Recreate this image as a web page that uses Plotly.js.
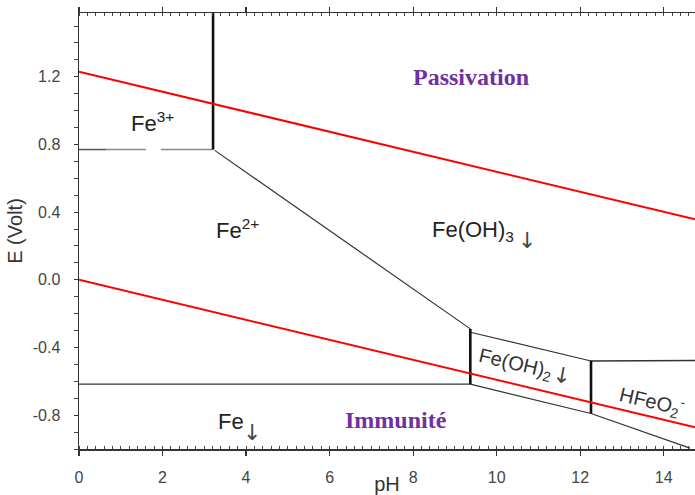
<!DOCTYPE html>
<html>
<head>
<meta charset="utf-8">
<script src="https://cdn.plot.ly/plotly-3.0.1.min.js"></script>
<style>html,body{margin:0;padding:0;background:#fff;}#chart{width:695px;height:495px;}</style>
</head>
<body>
<div id="chart"></div>
<script>
// ---- axis ticks ----
const pHTicks = [0, 2, 4, 6, 8, 10, 12, 14];
const eTickVals = [-0.8, -0.4, 0.0, 0.4, 0.8, 1.2];
const eTickText = ['-0.8', '-0.4', '0.0', '0.4', '0.8', '1.2'];

// ---- water stability lines ----
const o2Line_pH = [0, 14.75];
const o2Line_E = [1.23, 0.358];
const h2Line_pH = [0, 14.75];
const h2Line_E = [0.0, -0.872];

// ---- Fe3+/Fe2+ (broken horizontal) ----
const fe3fe2Dark_pH = [0, 0.65];
const fe3fe2Dark_E = [0.77, 0.77];
const fe3fe2_pH = [0.65, 1.6, null, 1.96, 3.21];
const fe3fe2_E = [0.77, 0.77, null, 0.77, 0.77];

// ---- thick vertical boundaries ----
const vert1_pH = [3.21, 3.21];
const vert1_E = [0.77, 1.58];
const vert2_pH = [9.37, 9.37];
const vert2_E = [-0.29, -0.617];
const vert3_pH = [12.26, 12.26];
const vert3_E = [-0.478, -0.79];

// ---- thin boundaries ----
const fe2FeOH3_pH = [3.25, 9.37];
const fe2FeOH3_E = [0.765, -0.29];
const fe2Fe_pH = [0, 9.37];
const fe2Fe_E = [-0.617, -0.617];
const feOH3feOH2_pH = [9.37, 12.26];
const feOH3feOH2_E = [-0.31, -0.48];
const feOH3hfeo2_pH = [12.26, 14.75];
const feOH3hfeo2_E = [-0.48, -0.477];
const feOH2Fe_pH = [9.37, 12.26];
const feOH2Fe_E = [-0.617, -0.79];
const hfeo2Fe_pH = [12.26, 14.63];
const hfeo2Fe_E = [-0.79, -0.995];

// ---- labels ----
const speciesText = ['Fe<sup>3+</sup>', 'Fe<sup>2+</sup>', 'Fe(OH)<sub>3</sub>', 'Fe'];
const species_pH = [1.77, 3.8, 9.43, 3.64];
const species_E = [0.93, 0.3, 0.29, -0.84];
const tiltedText = ['Fe(OH)<sub>2</sub>', 'HFeO<sub>2</sub><sup>-</sup>'];
const tilted_pH = [10.45, 13.72];
const tilted_E = [-0.5, -0.72];
const precipText = ['↓', '↓', '↓'];   // precipitate arrows for Fe(OH)3, Fe, Fe(OH)2
const precip_pH = [10.72, 4.14, 11.57];
const precip_E = [0.23, -0.905, -0.565];
const zoneText = ['Passivation', 'Immunité'];
const zone_pH = [9.39, 7.6];
const zone_E = [1.2, -0.83];

function seg(x, y, color, width) {
  return {x: x, y: y, type: 'scatter', mode: 'lines', hoverinfo: 'skip',
          line: {color: color, width: width}, showlegend: false};
}

const traces = [
  seg(fe3fe2Dark_pH, fe3fe2Dark_E, '#555555', 1.5),
  seg(fe3fe2_pH, fe3fe2_E, '#8a8a8a', 1.5),
  seg(fe2FeOH3_pH, fe2FeOH3_E, '#333333', 1.2),
  seg(fe2Fe_pH, fe2Fe_E, '#333333', 1.3),
  seg(feOH3feOH2_pH, feOH3feOH2_E, '#333333', 1.2),
  seg(feOH3hfeo2_pH, feOH3hfeo2_E, '#333333', 1.3),
  seg(feOH2Fe_pH, feOH2Fe_E, '#333333', 1.2),
  seg(hfeo2Fe_pH, hfeo2Fe_E, '#333333', 1.2),
  seg(vert1_pH, vert1_E, '#111111', 2.6),
  seg(vert2_pH, vert2_E, '#111111', 2.6),
  seg(vert3_pH, vert3_E, '#111111', 2.6),
  seg(o2Line_pH, o2Line_E, '#ff0000', 2),
  seg(h2Line_pH, h2Line_E, '#ff0000', 2)
];

const annotations = [];
speciesText.forEach((t, i) => annotations.push({
  x: species_pH[i], y: species_E[i], xref: 'x', yref: 'y', text: t, showarrow: false,
  font: {family: 'Liberation Sans, Arial, sans-serif', size: 22, color: '#222'}
}));
tiltedText.forEach((t, i) => annotations.push({
  x: tilted_pH[i], y: tilted_E[i], xref: 'x', yref: 'y', text: t, showarrow: false, textangle: 13,
  font: {family: 'Liberation Sans, Arial, sans-serif', size: 20, color: '#333'}
}));
precipText.forEach((t, i) => annotations.push({
  x: precip_pH[i], y: precip_E[i], xref: 'x', yref: 'y', text: t, showarrow: false,
  textangle: i === 2 ? 10 : 0,
  font: {family: 'DejaVu Sans, sans-serif', size: 22, color: '#444'}
}));
zoneText.forEach((t, i) => annotations.push({
  x: zone_pH[i], y: zone_E[i], xref: 'x', yref: 'y', text: '<b>' + t + '</b>', showarrow: false,
  font: {family: 'Liberation Serif, Times New Roman, serif', size: 24, color: '#7030a0'}
}));

const layout = {
  width: 695, height: 495,
  margin: {l: 79, r: 0, t: 13, b: 46},
  paper_bgcolor: '#fff', plot_bgcolor: '#fff',
  showlegend: false,
  xaxis: {
    range: [0, 14.75], tickvals: pHTicks, ticktext: pHTicks.map(String),
    showgrid: false, zeroline: false,
    showline: true, linecolor: '#333', linewidth: 1.5, mirror: 'ticks',
    ticks: 'outside', ticklen: 5, tickwidth: 1.2, tickcolor: '#333',
    ticklabelstandoff: 8,
    minor: {dtick: 0.2, ticks: 'inside', ticklen: 3, tickwidth: 1, tickcolor: '#444', showgrid: false},
    tickfont: {family: 'Liberation Sans, Arial, sans-serif', size: 16, color: '#444'},
    title: {text: 'pH', font: {family: 'Liberation Sans, Arial, sans-serif', size: 20, color: '#333'}, standoff: 0}
  },
  yaxis: {
    range: [-1.0, 1.577], tickvals: eTickVals, ticktext: eTickText,
    showgrid: false, zeroline: false,
    showline: true, linecolor: '#333', linewidth: 1.5, mirror: false,
    ticks: 'outside', ticklen: 4, tickwidth: 1.2, tickcolor: '#333',
    ticklabelstandoff: 10,
    minor: {dtick: 0.1, ticks: 'outside', ticklen: 4, tickwidth: 1, tickcolor: '#444', showgrid: false},
    tickfont: {family: 'Liberation Sans, Arial, sans-serif', size: 16, color: '#444'},
    title: {text: 'E (Volt)', font: {family: 'Liberation Sans, Arial, sans-serif', size: 20, color: '#333'}, standoff: 4}
  },
  annotations: annotations
};

Plotly.newPlot('chart', traces, layout, {displayModeBar: false, staticPlot: true});
</script>
</body>
</html>
